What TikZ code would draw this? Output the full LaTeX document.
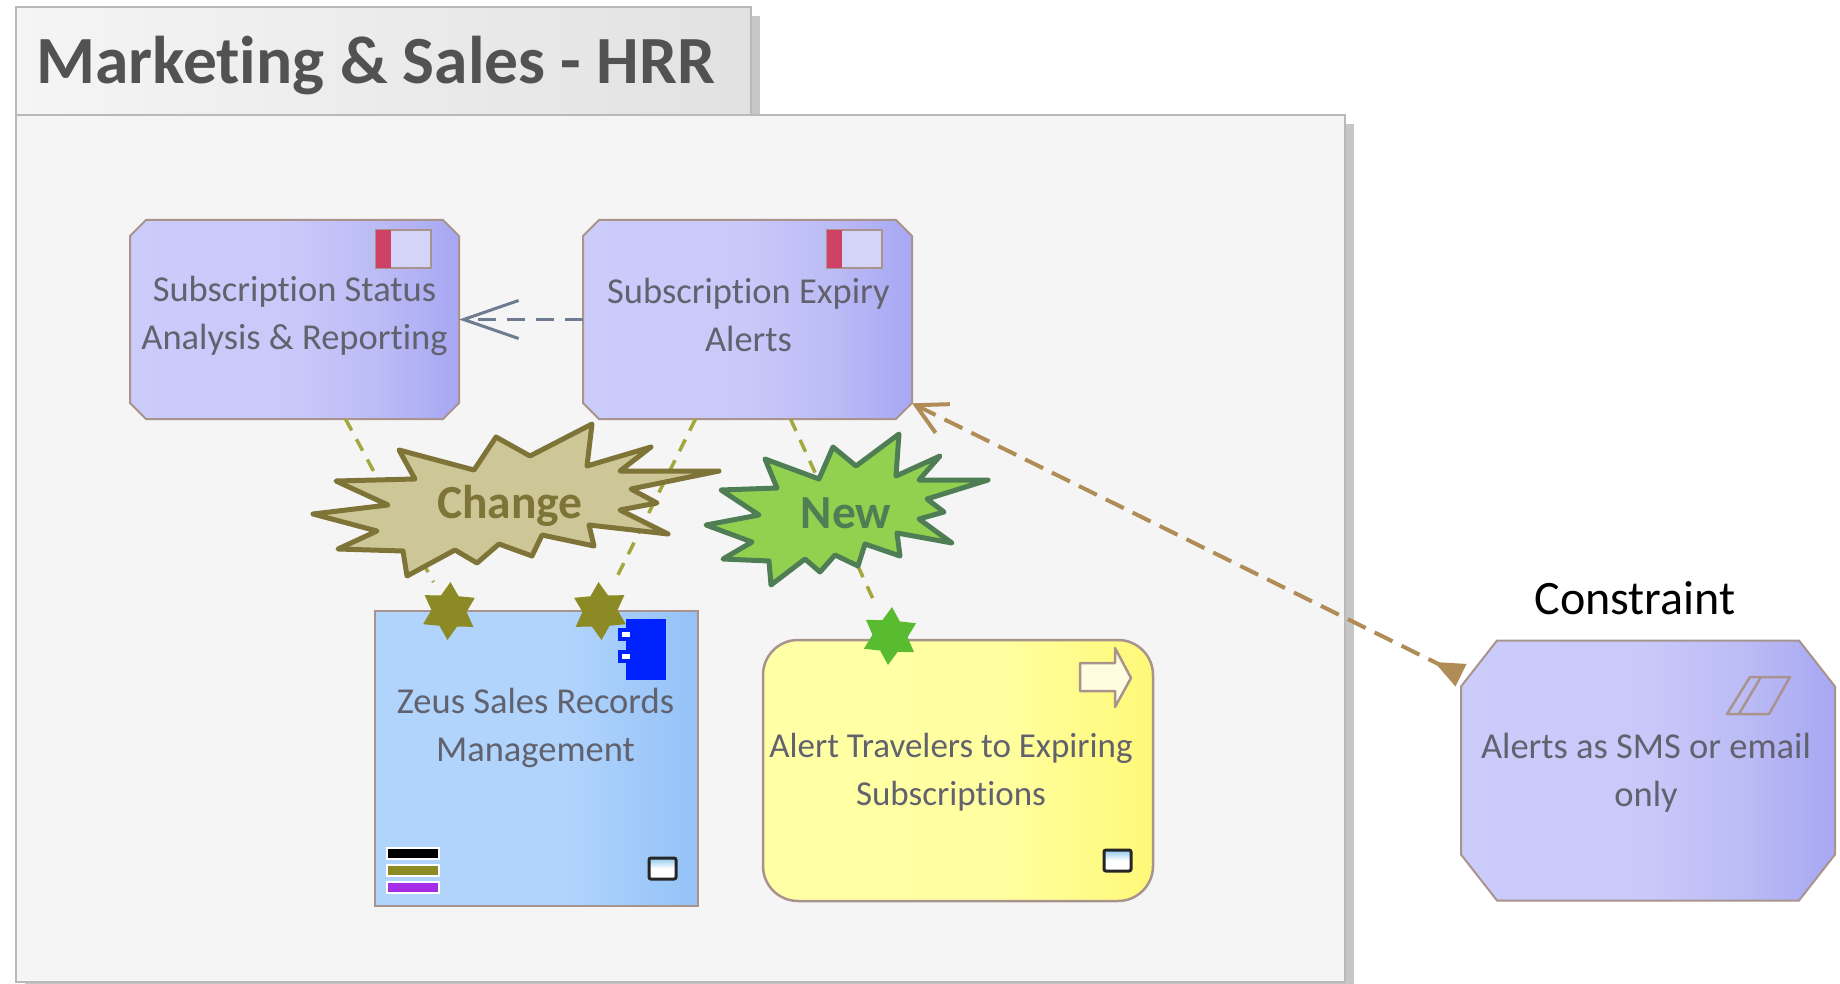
\documentclass[tikz,border=0pt]{standalone}
\usepackage{fontspec}
\setmainfont[Ligatures=NoCommon]{Carlito}
\usetikzlibrary{positioning}
\usetikzlibrary{arrows.meta}
\usetikzlibrary{shadows}
\usetikzlibrary{shapes.geometric}

\definecolor{edgegray}{HTML}{A8948C}
\definecolor{framegray}{HTML}{B9B9B9}
\definecolor{shadowgray}{HTML}{C6C6C6}
\definecolor{textgray}{HTML}{62626E}
\definecolor{olivedark}{HTML}{7F7437}
\definecolor{olivefill}{HTML}{CDC696}
\definecolor{olivestar}{HTML}{8B8A25}
\definecolor{oliveline}{HTML}{A3A83C}
\definecolor{greendark}{HTML}{507E54}
\definecolor{greenfill}{HTML}{92D050}
\definecolor{greenstar}{HTML}{58BB30}
\definecolor{tanline}{HTML}{B08D57}
\definecolor{slateline}{HTML}{6F7B90}
\definecolor{iconlilac}{HTML}{D4D4F8}
\definecolor{iconred}{HTML}{CE4266}
\definecolor{barpurple}{HTML}{A62DE8}
\definecolor{compblue}{HTML}{0022FF}
\definecolor{winblue}{HTML}{8FC7EE}

\pgfdeclarehorizontalshading{tabshade}{100bp}{rgb(0bp)=(.96,.96,.96);rgb(25bp)=(.96,.96,.96);rgb(75bp)=(.885,.885,.885);rgb(100bp)=(.885,.885,.885)}
\pgfdeclarehorizontalshading{purpleshade}{100bp}{rgb(0bp)=(.80,.80,.985);rgb(25bp)=(.80,.80,.985);rgb(50bp)=(.785,.785,.98);rgb(62bp)=(.74,.74,.965);rgb(75bp)=(.655,.655,.955);rgb(100bp)=(.655,.655,.955)}
\pgfdeclarehorizontalshading{blueshade}{100bp}{rgb(0bp)=(.69,.83,.99);rgb(25bp)=(.69,.83,.99);rgb(55bp)=(.69,.83,.99);rgb(75bp)=(.58,.76,.97);rgb(100bp)=(.58,.76,.97)}
\pgfdeclarehorizontalshading{yellowshade}{100bp}{rgb(0bp)=(1,1,.65);rgb(25bp)=(1,1,.65);rgb(55bp)=(1,1,.63);rgb(75bp)=(1,.975,.47);rgb(100bp)=(1,.975,.47)}

\newcommand{\chamferbox}[3]{%
   \path[draw=edgegray, line width=2pt, shade, shading=purpleshade]
      ([xshift=#2]#1.north west) -- ([xshift=-#2]#1.north east)
      -- ([yshift=-#3]#1.north east) -- ([yshift=#3]#1.south east)
      -- ([xshift=-#2]#1.south east) -- ([xshift=#2]#1.south west)
      -- ([yshift=#3]#1.south west) -- ([yshift=-#3]#1.north west) -- cycle;}

\tikzset{
   tabbox/.style={rectangle, draw=framegray, line width=2.5pt, outer sep=0pt,
      shade, shading=tabshade, minimum width=735pt, minimum height=108pt,
      drop shadow={shadow xshift=9pt, shadow yshift=-9pt, fill=shadowgray, opacity=1}},
   framebox/.style={rectangle, draw=framegray, line width=2.5pt, outer sep=0pt,
      fill=black!4, minimum width=1329pt, minimum height=867pt,
      drop shadow={shadow xshift=9pt, shadow yshift=-9pt, fill=shadowgray, opacity=1}},
   purplebox/.style={rectangle, outer sep=0pt, minimum width=329pt, minimum height=199pt},
   bluebox/.style={rectangle, draw=edgegray, line width=2.5pt, outer sep=0pt,
      shade, shading=blueshade, minimum width=323pt, minimum height=295pt},
   yellowbox/.style={rectangle, rounded corners=35pt, draw=edgegray, line width=2.5pt,
      outer sep=0pt, shade, shading=yellowshade, minimum width=390pt, minimum height=261pt},
   boxtext/.style={align=center, text=textgray, inner sep=0pt,
      font=\fontsize{36.5}{48}\selectfont},
   burst/.style={line width=5pt, line join=round},
   bursttext/.style={inner sep=0pt, font=\fontsize{47.5}{50}\selectfont\bfseries},
   redicon/.style={rectangle, draw=edgegray, line width=2pt, fill=iconlilac,
      outer sep=0pt, minimum width=55pt, minimum height=38pt},
   redbar/.style={rectangle, fill=iconred, outer sep=0pt,
      minimum width=15pt, minimum height=38pt},
   winicon/.style={rectangle, rounded corners=2pt, draw=black!85, line width=3pt,
      top color=winblue, bottom color=white, middle color=white,
      outer sep=0pt, minimum width=27pt, minimum height=21pt},
   legendbar/.style={rectangle, draw=white, line width=1.5pt, outer sep=0pt,
      minimum width=52pt, minimum height=11pt},
   comptab/.style={rectangle, draw=compblue, fill=white, line width=3.5pt,
      outer sep=0pt, minimum width=12pt, minimum height=9pt},
   depstar/.style={star, star points=6, star point ratio=1.65, inner sep=0pt,
      outer sep=0pt, minimum size=58pt},
   oliveflow/.style={oliveline, line width=3.5pt, dash pattern=on 13pt off 10pt, shorten >=15pt},
   slateflow/.style={slateline, line width=3pt, dash pattern=on 18pt off 11pt},
   tanflow/.style={tanline, line width=4pt, dash pattern=on 20pt off 10pt}
}

\begin{document}
\begin{tikzpicture}[x=1pt,y=-1pt]
   \useasboundingbox (0,0) rectangle (1840,984);

   % package tab and frame
   \node[tabbox]                              (t0) at (383.5,61) {};
   \node[framebox, anchor=north west]         (f0) at (t0.south west) {};
   \node[inner sep=0pt, text=black!68, font=\fontsize{67.5}{70}\selectfont\bfseries,
      right=20pt of t0.west, yshift=-5pt]     (t1) {Marketing \& Sales - HRR};

   % elements
   \node[purplebox, below right=105pt and 114pt of f0.north west] (b0) {};
   \node[purplebox, right=124pt of b0]                            (b1) {};
   \node[bluebox, below right=192pt and 245pt of b0.south west]   (b2) {};
   \node[yellowbox, below right=221pt and 180pt of b1.south west] (b3) {};
   \node[purplebox, right=308pt of b3, minimum width=374pt, minimum height=260pt] (b4) {};
   \chamferbox{b0}{16pt}{16pt}
   \chamferbox{b1}{16pt}{16pt}
   \chamferbox{b4}{36pt}{46pt}

   % element names
   \node[boxtext] (l0) at ([yshift=4pt]b0.center) {Subscription Status\\Analysis \& Reporting};
   \node[boxtext] (l1) at ([yshift=5pt,xshift=1pt]b1.center) {Subscription Expiry\\Alerts};
   \node[boxtext] (l2) at ([yshift=31pt,xshift=-1pt]b2.center) {Zeus Sales Records\\Management};
   \node[boxtext, font=\fontsize{35}{48}\selectfont] (l3) at ([yshift=-2pt,xshift=-7pt]b3.center) {Alert Travelers to Expiring\\Subscriptions};
   \node[boxtext] (l4) at ([yshift=-2pt,xshift=-2pt]b4.center) {Alerts as SMS or email\\only};
   \node[inner sep=0pt, font=\fontsize{48}{50}\selectfont,
      above=25pt of b4, xshift=-13pt] (l5) {Constraint};

   % function icons
   \node[redicon, below left=10pt and 28pt of b0.north east] (i0) {};
   \node[redbar, anchor=north west] (i1) at (i0.north west) {};
   \node[redicon, below left=10pt and 30pt of b1.north east] (i2) {};
   \node[redbar, anchor=north west] (i3) at (i2.north west) {};

   % component icon
   \node[rectangle, fill=compblue, outer sep=0pt, minimum width=40pt, minimum height=61pt,
      below left=8pt and 32pt of b2.north east] (c0) {};
   \node[comptab] (c1) at ([yshift=15pt]c0.west) {};
   \node[comptab] (c2) at ([yshift=-7pt]c0.west) {};

   % legend bars
   \node[legendbar, fill=barpurple, above right=13pt and 12pt of b2.south west] (g0) {};
   \node[legendbar, fill=olivestar, above=6pt of g0] (g1) {};
   \node[legendbar, fill=black, above=6pt of g1] (g2) {};

   % window icons
   \node[winicon, above left=27pt and 22pt of b2.south east] (w0) {};
   \node[winicon, above left=30pt and 22pt of b3.south east] (w1) {};

   % arrow and parallelogram icons
   \draw[edgegray, line width=2.5pt, line join=round, fill=yellow!12]
      (1080,663) -- (1115,663) -- (1115,648) -- (1131,678) -- (1115,707) -- (1115,691) -- (1080,691) -- cycle;
   \draw[edgegray, line width=2.5pt, line join=round]
      (1727,714) -- (1750,677) -- (1790,677) -- (1769,714) -- cycle
      (1739,714) -- (1761,677);

   % stars
   \node[depstar, fill=olivestar, rotate=-3] (s0) at ([xshift=74pt,yshift=0pt]b2.north west) {};
   \node[depstar, fill=olivestar, rotate=3]  (s1) at ([xshift=225pt,yshift=0pt]b2.north west) {};
   \node[depstar, fill=greenstar, rotate=-4] (s2) at ([xshift=127pt,yshift=4pt]b3.north west) {};

   % connectors
   \draw[oliveflow] ([xshift=51pt]b0.south)  -- (s0);
   \draw[oliveflow] ([xshift=-52pt]b1.south) -- (s1);
   \draw[oliveflow] ([xshift=43pt]b1.south)  -- (s2);
   \draw[slateflow, -{Straight Barb[length=55pt,width=38pt]}] (b1.west) -- (b0.east);
   \draw[tanflow, {Straight Barb[length=30pt,width=32pt]}-{Triangle[reversed,length=30pt,width=24pt]}]
      (b1.-27) -- (b4.153);

   % change and new bursts
   \draw[burst, draw=olivedark, fill=olivefill]
      (313,514) -- (388,505) -- (336,481) -- (415,479) -- (399,450) -- (474,470) -- (496,437)
      -- (530,456) -- (592,424) -- (587,466) -- (651,447) -- (620,471) -- (719,471) -- (631,489)
      -- (657,503) -- (620,510) -- (668,534) -- (589,525) -- (594,546) -- (542,535) -- (532,556)
      -- (499,544) -- (477,563) -- (455,550) -- (407,576) -- (403,551) -- (338,549) -- (377,531) -- cycle;
   \node[bursttext, text=olivedark] (k0) at (510,506) {Change};

   \draw[burst, draw=greendark, fill=greenfill]
      (706,525) -- (759,515) -- (721,490) -- (777,488) -- (765,459) -- (819,479) -- (833,447)
      -- (856,466) -- (899,434) -- (896,476) -- (940,456) -- (919,480) -- (988,480) -- (927,499)
      -- (944,512) -- (919,519) -- (952,543) -- (897,533) -- (900,556) -- (865,544) -- (858,566)
      -- (835,555) -- (820,572) -- (805,559) -- (771,585) -- (769,561) -- (723,559) -- (752,542) -- cycle;
   \node[bursttext, text=greendark] (k1) at (846,513) {New};
\end{tikzpicture}
\end{document}
